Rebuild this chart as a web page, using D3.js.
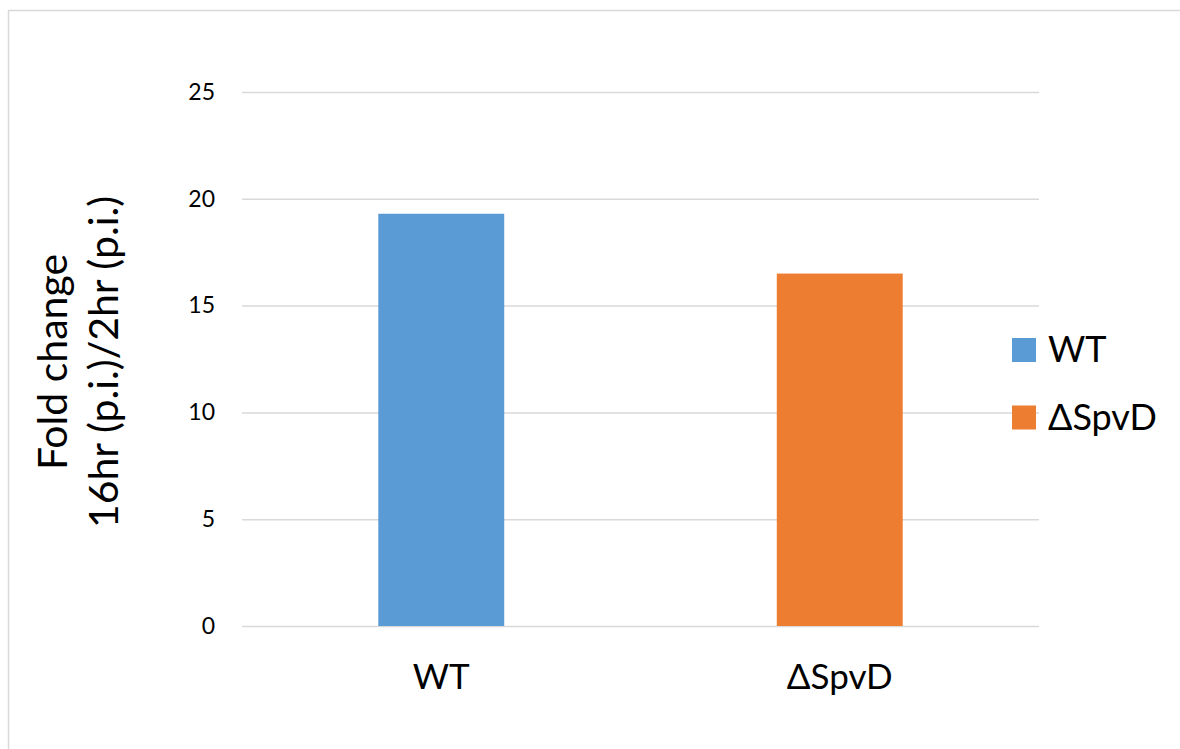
<!DOCTYPE html>
<html>
<head>
<meta charset="utf-8">
<script src="https://cdn.jsdelivr.net/npm/d3@7"></script>
<style>
  html, body { margin: 0; padding: 0; background: #fff; }
  svg { display: block; font-family: Lato, "Open Sans", sans-serif; }
</style>
</head>
<body>
<svg id="chart" width="1180" height="749"></svg>
<script>
// Strains and their fold change (16hr p.i. / 2hr p.i.)
const categories = ["WT", "ΔSpvD"];
const values = [19.3, 16.5];
const colors = ["#5B9BD5", "#ED7D31"];
const yTicks = [0, 5, 10, 15, 20, 25];
const yTitleLines = ["Fold change", "16hr (p.i.)/2hr (p.i.)"];

const svg = d3.select("#chart");
const W = 1180, H = 749;
const plot = { left: 242, right: 1039, top: 92, bottom: 626 };

// outer chart-area border (runs off the right and bottom edges)
svg.append("rect")
  .attr("x", 8.5).attr("y", 10.5)
  .attr("width", W).attr("height", H)
  .attr("fill", "#fff")
  .attr("stroke", "#d9d9d9").attr("stroke-width", 1.5);

const x = d3.scaleBand()
  .domain(categories)
  .range([plot.left, plot.right])
  .paddingInner(0.684)
  .paddingOuter(0.342);

const y = d3.scaleLinear()
  .domain([0, 25])
  .range([plot.bottom, plot.top]);

// horizontal gridlines with value labels
const yAxis = d3.axisLeft(y)
  .tickValues(yTicks)
  .tickSize(-(plot.right - plot.left))
  .tickPadding(27)
  .tickFormat(d3.format("d"));

const gy = svg.append("g")
  .attr("transform", `translate(${plot.left},0)`)
  .call(yAxis);
gy.select(".domain").remove();
gy.selectAll(".tick line")
  .attr("stroke", "#d9d9d9").attr("stroke-width", 1.5);
gy.selectAll(".tick text")
  .attr("fill", "#000")
  .style("font-size", "23px")
  .style("font-family", "Lato, sans-serif");

// bars
svg.append("g")
  .selectAll("rect")
  .data(categories)
  .join("rect")
  .attr("x", d => x(d))
  .attr("width", x.bandwidth())
  .attr("y", (d, i) => y(values[i]))
  .attr("height", (d, i) => y(0) - y(values[i]))
  .attr("fill", (d, i) => colors[i]);

// category labels
const gx = svg.append("g")
  .attr("transform", `translate(0,${plot.bottom})`)
  .call(d3.axisBottom(x).tickSize(0).tickPadding(38));
gx.select(".domain").remove();
gx.selectAll(".tick text")
  .attr("fill", "#000")
  .style("font-size", "35px")
  .style("font-family", "Lato, sans-serif");

// y-axis title, two rotated lines
const yTitle = svg.append("text")
  .attr("transform", `translate(0,${(plot.top + plot.bottom) / 2 + 3}) rotate(-90)`)
  .attr("text-anchor", "middle")
  .style("font-size", "41px")
  .attr("fill", "#000");
yTitle.selectAll("tspan")
  .data(yTitleLines)
  .join("tspan")
  .attr("x", 0)
  .attr("y", (d, i) => [67, 118][i])
  .text(d => d);

// legend
const legend = svg.append("g")
  .attr("transform", "translate(1012,338)");
const item = legend.selectAll("g")
  .data(categories)
  .join("g")
  .attr("transform", (d, i) => `translate(0,${i * 67.5})`);
item.append("rect")
  .attr("width", 24).attr("height", 24)
  .attr("fill", (d, i) => colors[i]);
item.append("text")
  .attr("x", 36).attr("y", 24)
  .style("font-size", "36px")
  .attr("fill", "#000")
  .text(d => d);
</script>
</body>
</html>
